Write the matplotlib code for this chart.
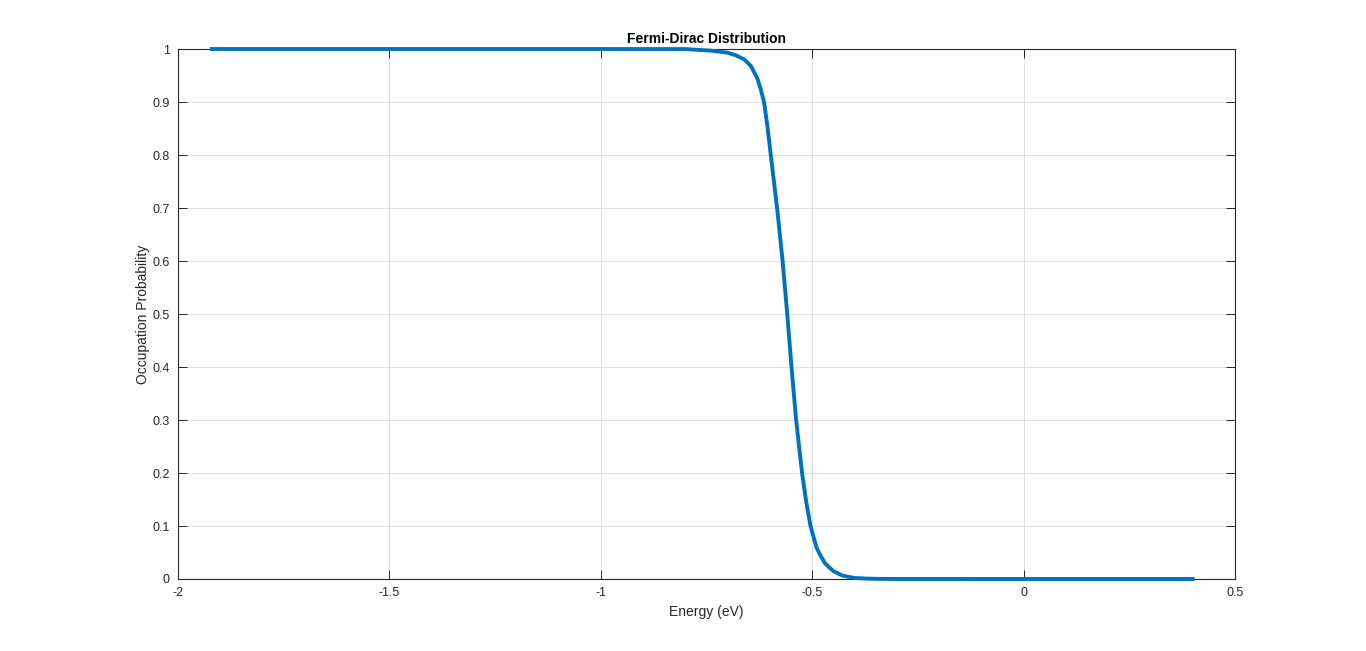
import matplotlib
matplotlib.use("Agg")
import matplotlib.pyplot as plt

# values
energy = [-1.92, -1.50, -1.00, -0.80, -0.74, -0.70, -0.68, -0.66, -0.645, -0.63,
          -0.622, -0.614, -0.606, -0.598, -0.583, -0.570, -0.559, -0.549, -0.538,
          -0.524, -0.514, -0.504, -0.497, -0.49, -0.483, -0.47, -0.46, -0.45,
          -0.44, -0.43, -0.42, -0.40, -0.38, -0.35, -0.30, 0.0, 0.40]
occupation = [1.0, 1.0, 1.0, 0.9999, 0.997, 0.993, 0.988, 0.980, 0.968, 0.945,
              0.925, 0.90, 0.855, 0.80, 0.70, 0.60, 0.50, 0.40, 0.30,
              0.20, 0.145, 0.10, 0.08, 0.06, 0.048, 0.03, 0.022, 0.015,
              0.011, 0.007, 0.005, 0.002, 0.0011, 0.0003, 0.00004, 0.0, 0.0]

xticks = [-2, -1.5, -1, -0.5, 0, 0.5]
xlabels = ["-2", "-1.5", "-1", "-0.5", "0", "0.5"]
yticks = [0, 0.1, 0.2, 0.3, 0.4, 0.5, 0.6, 0.7, 0.8, 0.9, 1]
ylabels = ["0", "0.1", "0.2", "0.3", "0.4", "0.5", "0.6", "0.7", "0.8", "0.9", "1"]

plt.rcParams['font.family'] = ['Liberation Sans', 'DejaVu Sans']
axcol = "#262626"

fig = plt.figure(figsize=(13.66, 6.51), dpi=100)
ax = fig.add_axes([0.1303, 0.1106, 0.7738, 0.8141])

ax.plot(energy, occupation, color="#0072BD", lw=2.8, clip_on=False, zorder=3)

ax.set_xlim(-2, 0.5)
ax.set_ylim(0, 1)
ax.set_xticks(xticks)
ax.set_xticklabels(xlabels)
ax.set_yticks(yticks)
ax.set_yticklabels(ylabels)
ax.grid(True, color="#dedede", lw=0.7)
ax.set_axisbelow(True)
ax.tick_params(direction="in", length=6.5, width=0.7, colors=axcol,
               labelsize=9, top=True, right=True, pad=6)
for s in ax.spines.values():
    s.set_color(axcol)
    s.set_linewidth(0.8)

ax.set_title("Fermi-Dirac Distribution", fontsize=10, fontweight="bold", color="black", pad=4)
ax.set_xlabel("Energy (eV)", fontsize=10, color=axcol, labelpad=4)
ax.set_ylabel("Occupation Probability", fontsize=10, color=axcol, labelpad=2)

fig.savefig("out.png", dpi=100)
